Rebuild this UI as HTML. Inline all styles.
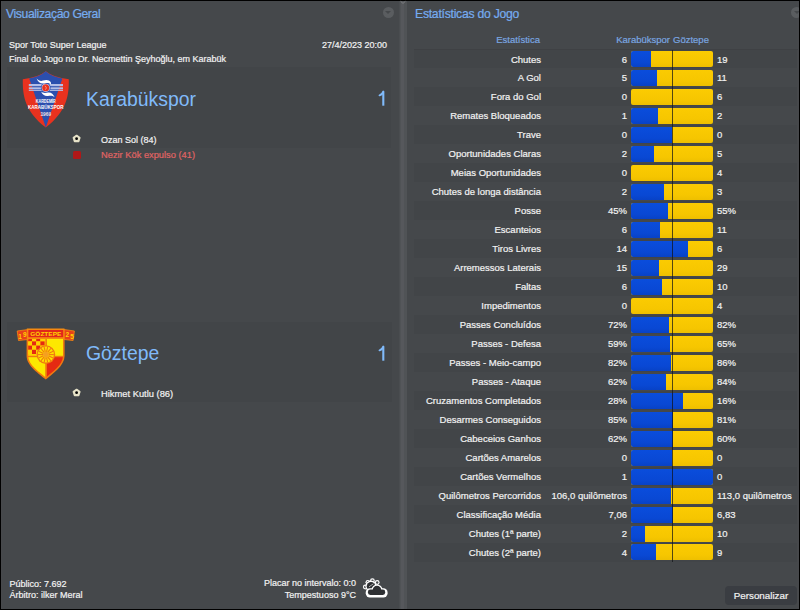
<!DOCTYPE html>
<html><head><meta charset="utf-8">
<style>
*{margin:0;padding:0;box-sizing:border-box}
html,body{width:800px;height:610px;overflow:hidden;background:#000}
body{position:relative;font-family:"Liberation Sans",sans-serif;color:#f2f2f2;-webkit-text-stroke:0.2px currentColor}
.p{position:absolute;top:1px;height:608px;background:#45484b}
#pl{left:1px;width:398px}
#pr{left:407px;width:392px}
.a{position:absolute;white-space:nowrap}
.title{position:absolute;font-size:12.2px;letter-spacing:-0.4px;color:#76acf0;line-height:14px;top:7px}
.box{position:absolute;background:#424548}
.circ{position:absolute;width:11px;height:11px;border-radius:50%;background:#5a5d60}
.circ:after{content:"";position:absolute;left:2.5px;top:4px;border-left:3px solid transparent;border-right:3px solid transparent;border-top:3.5px solid #45484b}
.t9{font-size:9px;line-height:12px}
.w{-webkit-text-stroke:0.2px #f2f2f2}
svg{display:block}
svg text{-webkit-text-stroke:0}
.stripe{position:absolute;left:414px;width:383px;height:19.2px;background:#424548}
.lab,.hv,.av{position:absolute;font-size:9.5px;line-height:19px;height:19px;white-space:nowrap}
.lab{right:259px;text-align:right}
.hv{right:173px;text-align:right}
.av{left:717px}
.bar{position:absolute;left:631px;width:82px;height:16px;background:linear-gradient(180deg,#fbcb02,#f6c600 70%,#eebf00);border-radius:2px;overflow:hidden}
.bb{position:absolute;left:0;top:0;bottom:0;background:linear-gradient(180deg,#0a4ddc,#0948d4 70%,#0842c6)}
.cl{position:absolute;left:41px;top:0;bottom:0;width:1px;background:rgba(18,20,24,0.72)}
.hdr{position:absolute;font-size:9.5px;line-height:12px;color:#7aa6e0;white-space:nowrap;top:34px}
</style></head><body>
<div class="p" id="pl"></div>
<div class="a" style="left:398.5px;top:1px;width:8.5px;height:608px;background:linear-gradient(90deg,#4a4d50 0,#4a4d50 1px,#505356 1px,#505356 2.3px,#56585c 2.3px,#56585c 5.1px,#505356 5.1px,#505356 100%)"></div>
<div class="p" id="pr"></div>
<div class="a" style="left:1px;top:1px;width:1px;height:608px;background:#47494c"></div>
<svg class="a" style="left:399px;top:0px" width="8" height="6" viewBox="0 0 8 6"><path d="M1.6 1.3 L4 3.4 L6.4 1.3" stroke="#7c7e81" stroke-width="1" fill="none"/></svg>
<div class="a" style="left:797px;top:1px;width:2px;height:608px;background:#47494c"></div>

<div class="title" style="left:6px">Visualização Geral</div>
<div class="circ" style="left:382.5px;top:6.5px"></div>
<div class="a t9" style="left:9px;top:39px">Spor Toto Super League</div>
<div class="a t9" style="right:413px;top:39px">27/4/2023 20:00</div>
<div class="a t9" style="left:9px;top:53px">Final do Jogo no Dr. Necmettin Şeyhoğlu, em Karabük</div>

<div class="box" style="left:7px;top:67px;width:384px;height:81px"></div>
<div class="box" style="left:7px;top:322px;width:385px;height:80px"></div>

<svg class="a" style="left:18px;top:68px" width="56" height="64" viewBox="18 68 56 64">
<path d="M45.8 71.3 Q38 77.6 22.8 79.2 C22.6 95 24.6 111 45.8 127.5 C67 111 69 95 68.8 79.2 Q53.6 77.6 45.8 71.3 Z" fill="#e8321f"/>
<path d="M45.8 71.3 Q40 76.6 29.2 78.6 L45.8 127.5 L62.4 78.6 Q51.6 76.6 45.8 71.3 Z" fill="#2b4fae"/>
<g fill="#b4bee6">
<rect x="28.8" y="84" width="34.2" height="2.2"/>
<rect x="28.8" y="87.3" width="34.2" height="1.7"/>
<rect x="28.8" y="89.6" width="34.2" height="1.3"/>
</g>
<circle cx="45.7" cy="87.8" r="4.9" fill="#2b4fae"/>
<circle cx="45.7" cy="87.8" r="4.1" fill="#c8d0f0"/>
<circle cx="45.7" cy="87.8" r="3.5" fill="#e8321f"/>
<path d="M44.8 86 C46.6 86.4 46.6 88.4 45.4 89.6" stroke="#f4b0a8" stroke-width="0.8" fill="none"/>
<path d="M36.6 78.6 C38.6 80.6 40.6 81.4 43 80.6 C46 79.4 49.2 79.6 50.8 82.2 L51 84.6 C49.4 82.8 47.4 82.6 44.6 83.4 C41 84.2 38.2 82.6 36.6 78.6 Z" fill="#fff"/>
<path d="M41 91.6 C43 93.4 45.6 93 48 92.6 C51 92.2 53.2 93.8 54.6 97.2 C52.6 95.6 50.6 95.6 48 96 C45 96.4 42.4 95 41 91.6 Z" fill="#fff"/>
<text x="45.8" y="103.3" font-family="Liberation Sans" font-size="4.5" font-weight="bold" fill="#fff" text-anchor="middle" textLength="20" lengthAdjust="spacingAndGlyphs">KARDEMİR</text>
<text x="45.8" y="109" font-family="Liberation Sans" font-size="5.2" font-weight="bold" fill="#fff" text-anchor="middle" textLength="35.5" lengthAdjust="spacingAndGlyphs">KARABÜKSPOR</text>
<text x="45.8" y="115.8" font-family="Liberation Sans" font-size="4.8" font-weight="bold" fill="#f4e0e0" text-anchor="middle">1969</text>
</svg>
<div class="a" style="left:72px;top:134px"><svg width="10" height="10" viewBox="0 0 10 10"><path d="M4.6 1.6 L7.7 3.7 L6.6 7.3 L2.6 7.3 L1.5 3.7 Z" fill="#e6e2c8" stroke="#e6e2c8" stroke-width="1.8" stroke-linejoin="round"/><circle cx="4.6" cy="4.7" r="1.4" fill="#050505"/></svg></div>
<div class="a" style="left:86px;top:87px;font-size:19.4px;line-height:24px;-webkit-text-stroke:0;color:#80bafa">Karabükspor</div>
<svg class="a" style="left:376px;top:89px" width="12" height="20" viewBox="0 0 12 20"><path d="M7.3 2.6 L7.3 16.7" stroke="#80bafa" stroke-width="2.1" fill="none"/><path d="M3.5 6.4 C4.9 6.1 6.3 5.0 7.3 2.6" stroke="#80bafa" stroke-width="1.9" stroke-linecap="round" fill="none"/></svg>
<div class="a t9" style="left:101px;top:133.5px">Ozan Sol (84)</div>
<div class="a t9" style="left:101px;top:149px;font-size:9.3px;color:#e06464">Nezir Kök expulso (41)</div>
<div class="a" style="left:73px;top:151px;width:8px;height:8px;border-radius:1.5px;background:#b01818"></div>

<svg class="a" style="left:14px;top:324px" width="64" height="60" viewBox="14 324 64 60">
<defs><clipPath id="sh"><path d="M28.2 337.6 L63 337.6 L63 356 C63 365 51.5 372.5 45.8 377.6 C40.1 372.5 28.2 365 28.2 356 Z"/></clipPath></defs>
<path d="M26.6 336 L64.6 336 L64.6 356 C64.6 366 52 374 45.8 379.6 C39.6 374 26.6 366 26.6 356 Z" fill="#f07a10"/>
<g clip-path="url(#sh)">
<rect x="27" y="337" width="19" height="19" fill="#ffd200"/>
<rect x="27.80" y="337.20" width="4.20" height="4.20" fill="#e52a12"/><rect x="32.00" y="337.20" width="4.20" height="4.20" fill="#ffd200"/><rect x="36.20" y="337.20" width="4.20" height="4.20" fill="#e52a12"/><rect x="40.40" y="337.20" width="4.20" height="4.20" fill="#ffd200"/><rect x="27.80" y="341.40" width="4.20" height="4.20" fill="#ffd200"/><rect x="32.00" y="341.40" width="4.20" height="4.20" fill="#e52a12"/><rect x="36.20" y="341.40" width="4.20" height="4.20" fill="#ffd200"/><rect x="40.40" y="341.40" width="4.20" height="4.20" fill="#e52a12"/><rect x="27.80" y="345.60" width="4.20" height="4.20" fill="#e52a12"/><rect x="32.00" y="345.60" width="4.20" height="4.20" fill="#ffd200"/><rect x="36.20" y="345.60" width="4.20" height="4.20" fill="#e52a12"/><rect x="40.40" y="345.60" width="4.20" height="4.20" fill="#ffd200"/><rect x="27.80" y="349.80" width="4.20" height="4.20" fill="#ffd200"/><rect x="32.00" y="349.80" width="4.20" height="4.20" fill="#e52a12"/><rect x="36.20" y="349.80" width="4.20" height="4.20" fill="#ffd200"/><rect x="40.40" y="349.80" width="4.20" height="4.20" fill="#e52a12"/>
<rect x="46.6" y="337" width="19" height="19" fill="#fde800"/>
<rect x="27" y="357" width="18.6" height="24" fill="#fde800"/>
<rect x="46.6" y="357" width="19" height="24" fill="#e52a12"/>
<rect x="45.4" y="337" width="1.4" height="44" fill="#f07a10"/>
<rect x="27" y="355.8" width="38" height="1.4" fill="#f07a10"/>
</g>
<circle cx="45.9" cy="354.6" r="9.3" fill="#f07a10"/>
<circle cx="45.9" cy="354.6" r="8" fill="#ffe000"/>
<g stroke="#f07a10" stroke-width="1.1">
<line x1="48.70" y1="354.60" x2="53.90" y2="354.60"/><line x1="48.42" y1="355.81" x2="53.11" y2="358.07"/><line x1="47.65" y1="356.79" x2="50.89" y2="360.85"/><line x1="46.52" y1="357.33" x2="47.68" y2="362.40"/><line x1="45.28" y1="357.33" x2="44.12" y2="362.40"/><line x1="44.15" y1="356.79" x2="40.91" y2="360.85"/><line x1="43.38" y1="355.81" x2="38.69" y2="358.07"/><line x1="43.10" y1="354.60" x2="37.90" y2="354.60"/><line x1="43.38" y1="353.39" x2="38.69" y2="351.13"/><line x1="44.15" y1="352.41" x2="40.91" y2="348.35"/><line x1="45.28" y1="351.87" x2="44.12" y2="346.80"/><line x1="46.52" y1="351.87" x2="47.68" y2="346.80"/><line x1="47.65" y1="352.41" x2="50.89" y2="348.35"/><line x1="48.42" y1="353.39" x2="53.11" y2="351.13"/>
</g>
<circle cx="45.9" cy="354.6" r="2.8" fill="#f5a020"/>
<path d="M17.2 331 L28 329.5 L28 339.5 L18.5 340.5 Z" fill="#e8401a" stroke="#f58a10" stroke-width="0.8"/>
<path d="M74.4 331 L64 329.5 L64 339.5 L73.1 340.5 Z" fill="#e8401a" stroke="#f58a10" stroke-width="0.8"/>
<rect x="26.8" y="328.5" width="37.7" height="10.5" fill="#f58a10"/>
<rect x="28.4" y="330" width="34.8" height="7.2" fill="#e2281a"/>
<text x="45.8" y="336" font-family="Liberation Sans" font-size="6" font-weight="bold" fill="#ffd200" text-anchor="middle" textLength="31" lengthAdjust="spacingAndGlyphs">GÖZTEPE</text>
<text x="20" y="339" font-family="Liberation Sans" font-size="6.5" font-weight="bold" fill="#ffd200" text-anchor="middle">1</text>
<text x="24.8" y="336.5" font-family="Liberation Sans" font-size="6.5" font-weight="bold" fill="#ffd200" text-anchor="middle">9</text>
<text x="67.2" y="336.5" font-family="Liberation Sans" font-size="6.5" font-weight="bold" fill="#ffd200" text-anchor="middle">2</text>
<text x="72" y="339" font-family="Liberation Sans" font-size="6.5" font-weight="bold" fill="#ffd200" text-anchor="middle">5</text>
</svg>
<div class="a" style="left:72px;top:388px"><svg width="10" height="10" viewBox="0 0 10 10"><path d="M4.6 1.6 L7.7 3.7 L6.6 7.3 L2.6 7.3 L1.5 3.7 Z" fill="#e6e2c8" stroke="#e6e2c8" stroke-width="1.8" stroke-linejoin="round"/><circle cx="4.6" cy="4.7" r="1.4" fill="#050505"/></svg></div>
<div class="a" style="left:86px;top:341px;font-size:19.4px;line-height:24px;-webkit-text-stroke:0;color:#80bafa">Göztepe</div>
<svg class="a" style="left:376px;top:343.5px" width="12" height="20" viewBox="0 0 12 20"><path d="M7.3 2.6 L7.3 16.7" stroke="#80bafa" stroke-width="2.1" fill="none"/><path d="M3.5 6.4 C4.9 6.1 6.3 5.0 7.3 2.6" stroke="#80bafa" stroke-width="1.9" stroke-linecap="round" fill="none"/></svg>
<div class="a t9" style="left:101px;top:388px;font-size:9.35px">Hikmet Kutlu (86)</div>

<div class="a t9" style="left:9.5px;top:577.5px">Público: 7.692</div>
<div class="a t9" style="left:9.5px;top:589px">Árbitro: ilker Meral</div>
<div class="a t9" style="right:444px;top:577px;text-align:right">Placar no intervalo: 0:0</div>
<div class="a t9" style="right:444px;top:589px;text-align:right">Tempestuoso 9°C</div>

<svg class="a" style="left:356px;top:570px" width="40" height="35" viewBox="356 570 40 35">
<g fill="#fff">
<circle cx="365.3" cy="587" r="2.4"/>
<circle cx="367.9" cy="582.3" r="2.4"/>
<circle cx="372.4" cy="580.7" r="2.4"/>
<circle cx="377.2" cy="582.5" r="2.4"/>
</g>
<g fill="#45484b">
<circle cx="365.3" cy="587" r="1.2"/>
<circle cx="367.9" cy="582.3" r="1.2"/>
<circle cx="372.4" cy="580.7" r="1.2"/>
<circle cx="377.2" cy="582.5" r="1.2"/>
</g>
<circle cx="371" cy="586.2" r="5.6" fill="#fff"/>
<circle cx="371" cy="586.2" r="4.3" fill="#2e3033"/>
<path d="M369 586.8 L373.4 583.8" stroke="#fff" stroke-width="1" opacity="0.6"/>
<g fill="#fff">
<rect x="365.7" y="588.2" width="21.9" height="9.3" rx="4.2"/>
<circle cx="377" cy="590" r="5.5"/>
</g>
<g fill="#2e3033">
<rect x="367.9" y="589.6" width="17.3" height="5.3" rx="2.4"/>
<circle cx="377" cy="590" r="4.2"/>
</g>
</svg>
<div class="title" style="left:415px;letter-spacing:-0.25px">Estatísticas do Jogo</div>
<div class="circ" style="left:791px;top:6.5px"></div>
<div class="hdr" style="right:260px">Estatística</div>
<div class="hdr" style="right:130px">Karabükspor</div>
<div class="hdr" style="left:673px">Göztepe</div>
<div class="stripe" style="top:49.30px"></div><div class="lab" style="top:49.50px">Chutes</div><div class="hv" style="top:49.50px">6</div><div class="bar" style="top:51.00px"><div class="bb" style="width:19.68px"></div></div><div class="av" style="top:49.50px">19</div>
<div class="lab" style="top:68.48px">A Gol</div><div class="hv" style="top:68.48px">5</div><div class="bar" style="top:69.98px"><div class="bb" style="width:25.62px"></div></div><div class="av" style="top:68.48px">11</div>
<div class="stripe" style="top:87.26px"></div><div class="lab" style="top:87.46px">Fora do Gol</div><div class="hv" style="top:87.46px">0</div><div class="bar" style="top:88.96px"><div class="bb" style="width:0.0px"></div></div><div class="av" style="top:87.46px">6</div>
<div class="lab" style="top:106.44px">Remates Bloqueados</div><div class="hv" style="top:106.44px">1</div><div class="bar" style="top:107.94px"><div class="bb" style="width:27.33px"></div></div><div class="av" style="top:106.44px">2</div>
<div class="stripe" style="top:125.22px"></div><div class="lab" style="top:125.42px">Trave</div><div class="hv" style="top:125.42px">0</div><div class="bar" style="top:126.92px"><div class="bb" style="width:41.0px"></div></div><div class="av" style="top:125.42px">0</div>
<div class="lab" style="top:144.40px">Oportunidades Claras</div><div class="hv" style="top:144.40px">2</div><div class="bar" style="top:145.90px"><div class="bb" style="width:23.43px"></div></div><div class="av" style="top:144.40px">5</div>
<div class="stripe" style="top:163.18px"></div><div class="lab" style="top:163.38px">Meias Oportunidades</div><div class="hv" style="top:163.38px">0</div><div class="bar" style="top:164.88px"><div class="bb" style="width:0.0px"></div></div><div class="av" style="top:163.38px">4</div>
<div class="lab" style="top:182.36px">Chutes de longa distância</div><div class="hv" style="top:182.36px">2</div><div class="bar" style="top:183.86px"><div class="bb" style="width:32.8px"></div></div><div class="av" style="top:182.36px">3</div>
<div class="stripe" style="top:201.14px"></div><div class="lab" style="top:201.34px">Posse</div><div class="hv" style="top:201.34px">45%</div><div class="bar" style="top:202.84px"><div class="bb" style="width:36.9px"></div></div><div class="av" style="top:201.34px">55%</div>
<div class="lab" style="top:220.32px">Escanteios</div><div class="hv" style="top:220.32px">6</div><div class="bar" style="top:221.82px"><div class="bb" style="width:28.94px"></div></div><div class="av" style="top:220.32px">11</div>
<div class="stripe" style="top:239.10px"></div><div class="lab" style="top:239.30px">Tiros Livres</div><div class="hv" style="top:239.30px">14</div><div class="bar" style="top:240.80px"><div class="bb" style="width:57.4px"></div></div><div class="av" style="top:239.30px">6</div>
<div class="lab" style="top:258.28px">Arremessos Laterais</div><div class="hv" style="top:258.28px">15</div><div class="bar" style="top:259.78px"><div class="bb" style="width:27.95px"></div></div><div class="av" style="top:258.28px">29</div>
<div class="stripe" style="top:277.06px"></div><div class="lab" style="top:277.26px">Faltas</div><div class="hv" style="top:277.26px">6</div><div class="bar" style="top:278.76px"><div class="bb" style="width:30.75px"></div></div><div class="av" style="top:277.26px">10</div>
<div class="lab" style="top:296.24px">Impedimentos</div><div class="hv" style="top:296.24px">0</div><div class="bar" style="top:297.74px"><div class="bb" style="width:0.0px"></div></div><div class="av" style="top:296.24px">4</div>
<div class="stripe" style="top:315.02px"></div><div class="lab" style="top:315.22px">Passes Concluídos</div><div class="hv" style="top:315.22px">72%</div><div class="bar" style="top:316.72px"><div class="bb" style="width:38.34px"></div></div><div class="av" style="top:315.22px">82%</div>
<div class="lab" style="top:334.20px">Passes - Defesa</div><div class="hv" style="top:334.20px">59%</div><div class="bar" style="top:335.70px"><div class="bb" style="width:39.02px"></div></div><div class="av" style="top:334.20px">65%</div>
<div class="stripe" style="top:352.98px"></div><div class="lab" style="top:353.18px">Passes - Meio-campo</div><div class="hv" style="top:353.18px">82%</div><div class="bar" style="top:354.68px"><div class="bb" style="width:40.02px"></div></div><div class="av" style="top:353.18px">86%</div>
<div class="lab" style="top:372.16px">Passes - Ataque</div><div class="hv" style="top:372.16px">62%</div><div class="bar" style="top:373.66px"><div class="bb" style="width:34.82px"></div></div><div class="av" style="top:372.16px">84%</div>
<div class="stripe" style="top:390.94px"></div><div class="lab" style="top:391.14px">Cruzamentos Completados</div><div class="hv" style="top:391.14px">28%</div><div class="bar" style="top:392.64px"><div class="bb" style="width:52.18px"></div></div><div class="av" style="top:391.14px">16%</div>
<div class="lab" style="top:410.12px">Desarmes Conseguidos</div><div class="hv" style="top:410.12px">85%</div><div class="bar" style="top:411.62px"><div class="bb" style="width:41.99px"></div></div><div class="av" style="top:410.12px">81%</div>
<div class="stripe" style="top:428.90px"></div><div class="lab" style="top:429.10px">Cabeceios Ganhos</div><div class="hv" style="top:429.10px">62%</div><div class="bar" style="top:430.60px"><div class="bb" style="width:41.67px"></div></div><div class="av" style="top:429.10px">60%</div>
<div class="lab" style="top:448.08px">Cartões Amarelos</div><div class="hv" style="top:448.08px">0</div><div class="bar" style="top:449.58px"><div class="bb" style="width:41.0px"></div></div><div class="av" style="top:448.08px">0</div>
<div class="stripe" style="top:466.86px"></div><div class="lab" style="top:467.06px">Cartões Vermelhos</div><div class="hv" style="top:467.06px">1</div><div class="bar" style="top:468.56px"><div class="bb" style="width:82.0px"></div></div><div class="av" style="top:467.06px">0</div>
<div class="lab" style="top:486.04px">Quilômetros Percorridos</div><div class="hv" style="top:486.04px">106,0 quilômetros</div><div class="bar" style="top:487.54px"><div class="bb" style="width:39.69px"></div></div><div class="av" style="top:486.04px">113,0 quilômetros</div>
<div class="stripe" style="top:504.82px"></div><div class="lab" style="top:505.02px">Classificação Média</div><div class="hv" style="top:505.02px">7,06</div><div class="bar" style="top:506.52px"><div class="bb" style="width:41.68px"></div></div><div class="av" style="top:505.02px">6,83</div>
<div class="lab" style="top:524.00px">Chutes (1ª parte)</div><div class="hv" style="top:524.00px">2</div><div class="bar" style="top:525.50px"><div class="bb" style="width:13.67px"></div></div><div class="av" style="top:524.00px">10</div>
<div class="stripe" style="top:542.78px"></div><div class="lab" style="top:542.98px">Chutes (2ª parte)</div><div class="hv" style="top:542.98px">4</div><div class="bar" style="top:544.48px"><div class="bb" style="width:25.23px"></div></div><div class="av" style="top:542.98px">9</div>
<div class="a" style="left:414px;top:49px;width:384px;height:1px;background:#3f4144"></div>
<div class="a" style="left:672px;top:50px;width:1px;height:512px;background:rgba(18,20,24,0.72)"></div>
<div class="a" style="left:725px;top:586px;width:72px;height:19px;border-radius:4px;background:#3a3d42;font-size:9.8px;line-height:19px;text-align:center">Personalizar</div>
<div class="a" style="left:799px;top:0;width:1px;height:610px;background:#000"></div>
</body></html>
